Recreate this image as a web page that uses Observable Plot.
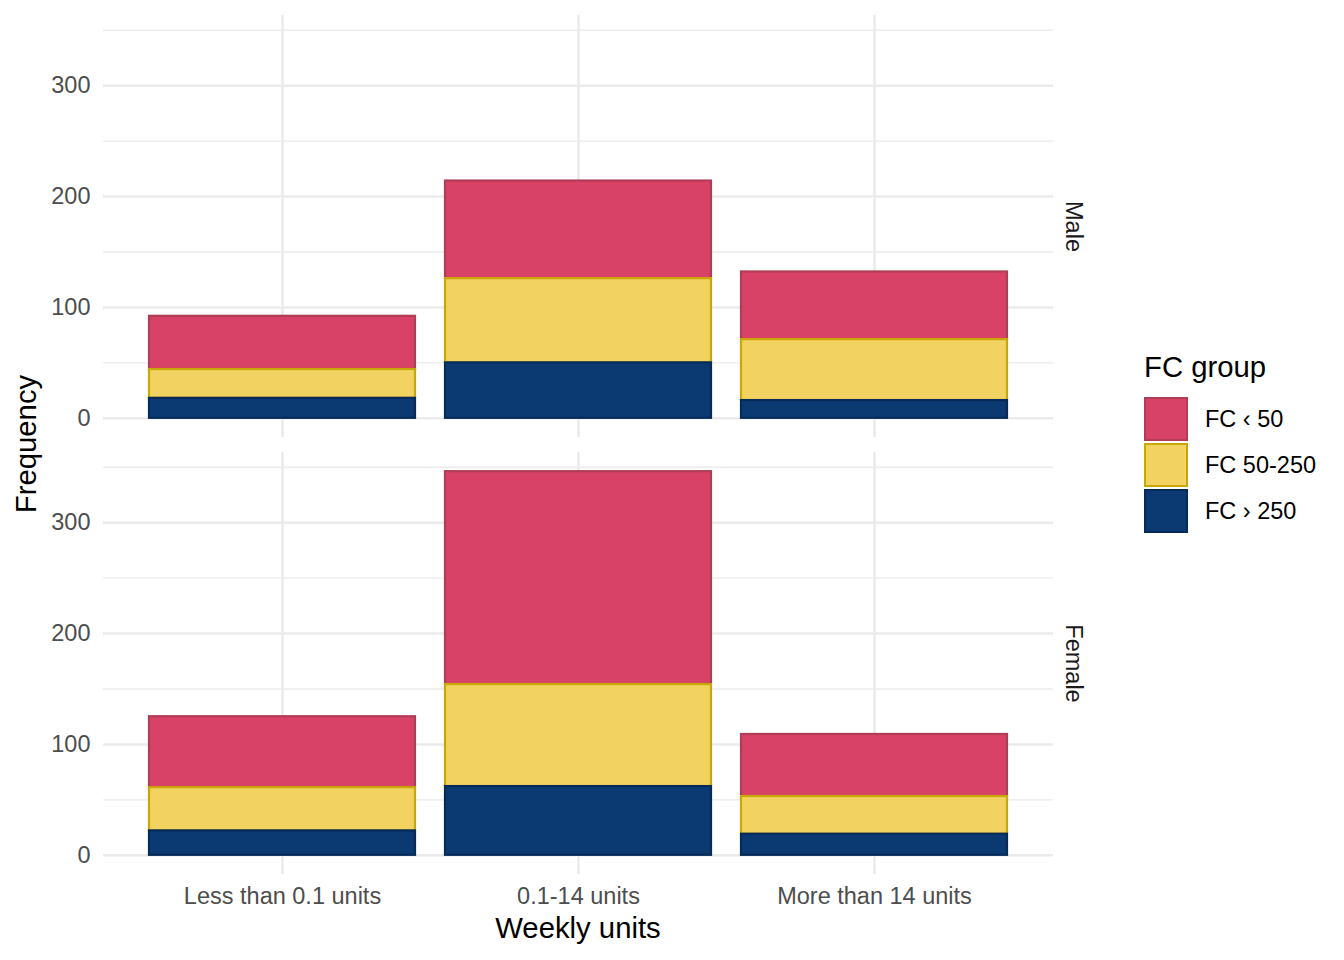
<!DOCTYPE html>
<html><head><meta charset="utf-8">
<script src="https://cdn.jsdelivr.net/npm/d3@7"></script>
<script src="https://cdn.jsdelivr.net/npm/@observablehq/plot@0.6"></script>
<style>
body{margin:0;background:#fff;font-family:"Liberation Sans",Arial,sans-serif;}
#wrap{position:relative;width:1344px;height:960px;}
</style></head><body><div id="wrap"></div>
<script>
// ---- data ----
const categories = ["Less than 0.1 units", "0.1-14 units", "More than 14 units"];
const sexes = ["Male", "Female"];
const groups = ["FC < 50", "FC 50-250", "FC > 250"];
const groupLabels = ["FC \u2039 50", "FC 50-250", "FC \u203A 250"];
const fills = ["#D94267", "#F2D260", "#0B3A72"];
const strokes = ["#B03C55", "#C8A808", "#052B5A"];
// values per category (Less than 0.1, 0.1-14, More than 14)
const maleLt50 = [48, 88, 61];
const male50to250 = [26, 76, 55];
const maleGt250 = [18, 50, 16];
const femaleLt50 = [64, 192, 56];
const female50to250 = [39, 92, 34];
const femaleGt250 = [22, 62, 19];
const yTicks = [0, 100, 200, 300];
const yMinor = [50, 150, 250, 350];

const series = {
  Male: [maleLt50, male50to250, maleGt250],
  Female: [femaleLt50, female50to250, femaleGt250]
};
const rows = [];
for (const sex of sexes) {
  groups.forEach((g, gi) => {
    categories.forEach((c, ci) => {
      rows.push({sex, cat: c, group: g, value: series[sex][gi][ci], fill: fills[gi], stroke: strokes[gi]});
    });
  });
}

const font = "Liberation Sans, Arial, sans-serif";
const plot = Plot.plot({
  width: 1344, height: 960,
  marginLeft: 103, marginRight: 291, marginTop: 15, marginBottom: 86,
  style: {fontFamily: font, background: "transparent"},
  x: {domain: categories, paddingInner: 0.1, paddingOuter: 0.15, label: null},
  y: {domain: [-17.3, 363.3], label: null},
  fy: {domain: sexes, paddingInner: 15 / 437, paddingOuter: 0, label: null, axis: null},
  color: {type: "identity"},
  marks: [
    Plot.gridY(yMinor, {stroke: "#EBEBEB", strokeOpacity: 1, strokeWidth: 1.4}),
    Plot.gridY(yTicks, {stroke: "#EBEBEB", strokeOpacity: 1, strokeWidth: 2.6}),
    Plot.gridX({stroke: "#EBEBEB", strokeOpacity: 1, strokeWidth: 2.6}),
    Plot.barY(rows, {x: "cat", y: "value", fy: "sex", z: "group", fill: "fill", stroke: "stroke",
      strokeWidth: 2.2, order: [groups[2], groups[1], groups[0]]}),
    Plot.axisY(yTicks, {tickSize: 0, tickPadding: 13, fontSize: 23.5, fill: "#4D4D4D", label: null}),
    Plot.axisX({tickSize: 0, tickPadding: 13, fontSize: 23.5, fill: "#4D4D4D", label: null}),
    Plot.text(sexes, {fy: d => d, text: d => d, frameAnchor: "right", textAnchor: "middle", dx: 20, rotate: 90,
      fontSize: 23.5, fill: "#1A1A1A"})
  ]
});

const svg = d3.select(plot);
svg.append("text").attr("x", 578).attr("y", 938).attr("text-anchor", "middle")
  .attr("font-size", 29.3).attr("fill", "#000").attr("font-family", font).text("Weekly units");
svg.append("text").attr("transform", "translate(36,444) rotate(-90)").attr("text-anchor", "middle")
  .attr("font-size", 29.3).attr("fill", "#000").attr("font-family", font).text("Frequency");

const lg = svg.append("g").attr("font-family", font).attr("text-anchor", "start");
lg.append("text").attr("x", 1144).attr("y", 377).attr("text-anchor", "start").attr("font-size", 29.3).attr("fill", "#000").text("FC group");
groups.forEach((g, i) => {
  const y0 = 397 + i * 46;
  lg.append("rect").attr("x", 1145).attr("y", y0 + 1).attr("width", 42).attr("height", 42)
    .attr("fill", fills[i]).attr("stroke", strokes[i]).attr("stroke-width", 2);
  lg.append("text").attr("x", 1205).attr("y", y0 + 22).attr("dy", "0.35em").attr("text-anchor", "start")
    .attr("font-size", 23.5).attr("fill", "#000").text(groupLabels[i]);
});

document.getElementById("wrap").appendChild(plot);
</script>
</body></html>
